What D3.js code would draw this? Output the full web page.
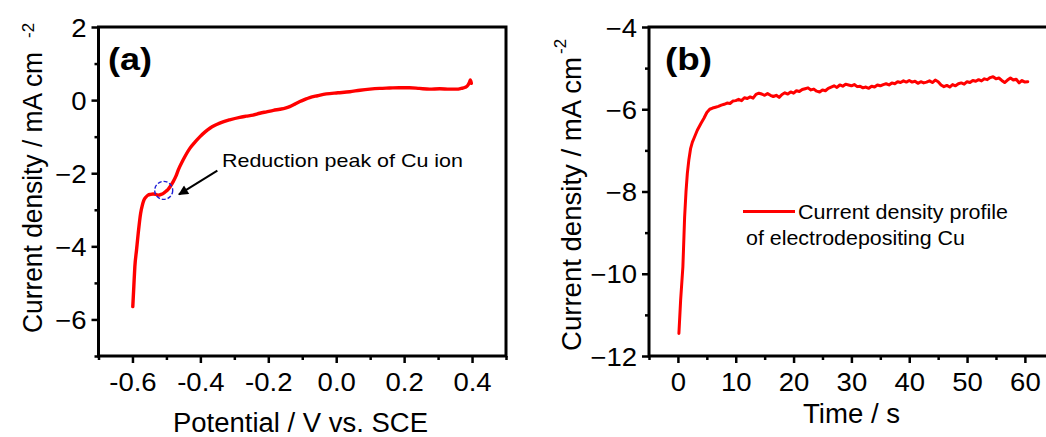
<!DOCTYPE html>
<html>
<head>
<meta charset="utf-8">
<script src="https://cdn.jsdelivr.net/npm/d3@7"></script>
<style>
  html, body { margin: 0; padding: 0; background: #fff; overflow: hidden; }
  svg { display: block; font-family: "Liberation Sans", Arial, sans-serif; }
</style>
</head>
<body>
<svg id="chart" width="1046" height="437"></svg>
<script>
// ---------- Panel (a): LSV ----------
const potentialV = [-0.599,-0.596,-0.593,-0.588,-0.583,-0.576,-0.571,-0.566,-0.560,-0.554,-0.547,-0.539,-0.531,-0.524,-0.516,-0.509,-0.502,-0.495,-0.488,-0.480,-0.472,-0.465,-0.451,-0.431,-0.416,-0.401,-0.386,-0.372,-0.357,-0.343,-0.314,-0.284,-0.265,-0.245,-0.225,-0.205,-0.185,-0.166,-0.150,-0.137,-0.122,-0.107,-0.092,-0.078,-0.055,-0.029,0.005,0.040,0.070,0.099,0.128,0.157,0.186,0.216,0.245,0.275,0.305,0.334,0.355,0.368,0.380,0.388,0.393,0.395,0.398];
const currentA   = [-5.65,-5.10,-4.56,-4.10,-3.64,-3.10,-2.88,-2.73,-2.65,-2.60,-2.58,-2.57,-2.58,-2.60,-2.58,-2.55,-2.50,-2.44,-2.35,-2.23,-2.08,-1.91,-1.64,-1.32,-1.15,-1.00,-0.87,-0.77,-0.69,-0.63,-0.54,-0.47,-0.44,-0.41,-0.36,-0.32,-0.28,-0.25,-0.22,-0.18,-0.11,-0.04,0.02,0.07,0.12,0.17,0.20,0.23,0.27,0.30,0.32,0.33,0.34,0.34,0.32,0.30,0.31,0.30,0.30,0.32,0.35,0.41,0.50,0.55,0.46];
const xTicksA = [-0.6,-0.4,-0.2,0.0,0.2,0.4];
const xTickLabelsA = ["-0.6","-0.4","-0.2","0.0","0.2","0.4"];
const xMinorA = [-0.7,-0.5,-0.3,-0.1,0.1,0.3,0.5];
const yTicksA = [-6,-4,-2,0,2];
const yMinorA = [-7,-5,-3,-1,1];

// ---------- Panel (b): chronoamperometry ----------
const timeS = [0.17,0.47,0.86,1.16,1.40,1.63,1.90,2.20,2.50,2.80,3.35,4.00,4.50,5.00,5.5,6.0,6.5,7.0,7.5,8.0,8.5,9.0,9.5,10.0,10.5,11.0,11.5,12.0,12.5,13.0,13.5,14.0,14.5,15.0,15.5,16.0,16.5,17.0,17.5,18.0,18.5,19.0,19.5,20.0,20.5,21.0,21.5,22.0,22.5,23.0,23.5,24.0,24.5,25.0,25.5,26.0,26.5,27.0,27.5,28.0,28.5,29.0,29.5,30.0,30.5,31.0,31.5,32.0,32.5,33.0,33.5,34.0,34.5,35.0,35.5,36.0,36.5,37.0,37.5,38.0,38.5,39.0,39.5,40.0,40.5,41.0,41.5,42.0,42.5,43.0,43.5,44.0,44.5,45.0,45.5,46.0,46.5,47.0,47.5,48.0,48.5,49.0,49.5,50.0,50.5,51.0,51.5,52.0,52.5,53.0,53.5,54.0,54.5,55.0,55.5,56.0,56.5,57.0,57.5,58.0,58.5,59.0,59.5,60.0,60.5];
const currentB = [-11.45,-10.64,-9.83,-8.62,-8.00,-7.56,-7.22,-6.95,-6.80,-6.70,-6.51,-6.34,-6.22,-6.08,-6.00,-5.97,-5.95,-5.93,-5.90,-5.88,-5.85,-5.86,-5.80,-5.79,-5.76,-5.79,-5.72,-5.74,-5.70,-5.73,-5.64,-5.61,-5.63,-5.66,-5.62,-5.66,-5.69,-5.66,-5.71,-5.64,-5.60,-5.63,-5.58,-5.61,-5.55,-5.57,-5.52,-5.50,-5.48,-5.53,-5.51,-5.56,-5.58,-5.53,-5.55,-5.49,-5.46,-5.43,-5.47,-5.41,-5.44,-5.39,-5.41,-5.43,-5.40,-5.45,-5.44,-5.48,-5.46,-5.49,-5.44,-5.46,-5.41,-5.43,-5.40,-5.38,-5.41,-5.36,-5.38,-5.33,-5.35,-5.31,-5.34,-5.30,-5.34,-5.32,-5.37,-5.33,-5.36,-5.34,-5.31,-5.35,-5.29,-5.33,-5.41,-5.45,-5.42,-5.46,-5.40,-5.43,-5.38,-5.36,-5.39,-5.33,-5.35,-5.30,-5.32,-5.28,-5.31,-5.26,-5.28,-5.23,-5.21,-5.26,-5.24,-5.30,-5.35,-5.29,-5.24,-5.29,-5.27,-5.36,-5.30,-5.34,-5.33];
const xTicksB = [0,10,20,30,40,50,60];
const xMinorB = [-5,5,15,25,35,45,55,65];
const yTicksB = [-12,-10,-8,-6,-4];
const yMinorB = [-11,-9,-7,-5];

const svg = d3.select("#chart");
svg.append("rect").attr("width",1046).attr("height",437).attr("fill","#fff");

const SX = 1.1; // horizontal text stretch seen in the reference
const RED = "#ff0000";

function drawPanel(opt) {
  const g = svg.append("g");
  const x = opt.x, y = opt.y;
  const [x0, x1] = x.range(), [y0, y1] = y.range();

  // curve
  const line = d3.line().x(d => x(d[0])).y(d => y(d[1])).curve(opt.curve);
  g.append("path")
    .datum(opt.xs.map((v,i) => [v, opt.ys[i]]))
    .attr("fill","none").attr("stroke",RED)
    .attr("stroke-width",opt.lw).attr("stroke-linejoin","round").attr("stroke-linecap","round")
    .attr("d", line);

  // bottom axis
  const bx = d3.axisBottom(x).tickValues(opt.xTicks).tickSize(7).tickSizeOuter(0)
    .tickFormat((d,i) => opt.xLabels ? opt.xLabels[i] : d3.format("d")(d));
  const gbx = g.append("g").attr("transform",`translate(0,${y0})`).call(bx);
  gbx.select(".domain").remove();
  gbx.selectAll(".tick line").attr("stroke","#000").attr("stroke-width",2.5);
  gbx.selectAll(".tick text").attr("y",35).attr("dy",0)
    .attr("font-size",25).attr("fill","#000").attr("transform",`scale(${SX},1)`);
  g.append("g").attr("transform",`translate(0,${y0})`)
    .call(d3.axisBottom(x).tickValues(opt.xMinor).tickSize(4).tickFormat(""))
    .call(s => { s.select(".domain").remove(); s.selectAll("line").attr("stroke","#000").attr("stroke-width",2.5); });

  // left axis
  const ly = d3.axisLeft(y).tickValues(opt.yTicks).tickSize(7).tickSizeOuter(0).tickFormat(d3.format("d"));
  const gly = g.append("g").attr("transform",`translate(${x0},0)`).call(ly);
  gly.select(".domain").remove();
  gly.selectAll(".tick line").attr("stroke","#000").attr("stroke-width",2.5);
  gly.selectAll(".tick text").attr("x",-12/SX).attr("dy","0.36em")
    .attr("font-size",25).attr("fill","#000").attr("transform",`scale(${SX},1)`);
  g.append("g").attr("transform",`translate(${x0},0)`)
    .call(d3.axisLeft(y).tickValues(opt.yMinor).tickSize(4).tickFormat(""))
    .call(s => { s.select(".domain").remove(); s.selectAll("line").attr("stroke","#000").attr("stroke-width",2.5); });

  // frame
  g.append("rect").attr("x",x0).attr("y",y1).attr("width",x1-x0).attr("height",y0-y1)
    .attr("fill","none").attr("stroke","#000").attr("stroke-width",3);

  // panel label
  g.append("text").attr("x",opt.labelX).attr("y",70).attr("font-size",32).attr("font-weight","bold")
    .attr("textLength",opt.labelW).attr("lengthAdjust","spacingAndGlyphs").text(opt.label);

  // x title
  g.append("text").attr("x",opt.xtX).attr("y",opt.xtY).attr("font-size",27)
    .attr("textLength",opt.xtW).attr("lengthAdjust","spacingAndGlyphs").text(opt.xTitle);

  // y title (rotated) + superscript
  g.append("text").attr("transform",`translate(${opt.ytX},${opt.ytY}) rotate(-90)`)
    .attr("font-size",27).attr("textLength",opt.ytW).attr("lengthAdjust","spacingAndGlyphs")
    .text("Current density / mA cm");
  g.append("text").attr("transform",`translate(${opt.supX},${opt.supY}) rotate(-90)`)
    .attr("font-size",17).text("-2");
  return g;
}

// Panel (a)
const xa = d3.scaleLinear().domain([-0.7,0.5]).range([98.5,506]);
const ya = d3.scaleLinear().domain([-7,2]).range([356,27]);
const ga = drawPanel({
  x: xa, y: ya, xs: potentialV, ys: currentA, curve: d3.curveMonotoneX, lw: 3.4,
  xTicks: xTicksA, xLabels: xTickLabelsA, xMinor: xMinorA, yTicks: yTicksA, yMinor: yMinorA,
  label: "(a)", labelX: 108, labelW: 44,
  xTitle: "Potential / V vs. SCE", xtX: 173, xtY: 432, xtW: 255,
  ytX: 42, ytY: 333, ytW: 281, supX: 34, supY: 38
});

// annotation for (a)
ga.append("circle").attr("cx",xa(-0.508)).attr("cy",ya(-2.47)).attr("r",9)
  .attr("fill","none").attr("stroke","#1f1fd6").attr("stroke-width",1.4).attr("stroke-dasharray","4,2");
svg.append("defs").append("marker").attr("id","arrowHead")
  .attr("viewBox","0 0 10 10").attr("refX",9).attr("refY",5)
  .attr("markerWidth",7).attr("markerHeight",5).attr("markerUnits","strokeWidth")
  .attr("orient","auto")
  .append("path").attr("d","M0,0 L10,5 L0,10 Z").attr("fill","#000");
ga.append("line")
  .attr("x1",xa(-0.350)).attr("y1",ya(-1.93))
  .attr("x2",xa(-0.463)).attr("y2",ya(-2.58))
  .attr("stroke","#000").attr("stroke-width",2).attr("marker-end","url(#arrowHead)");
ga.append("text").attr("x",222).attr("y",167).attr("font-size",19)
  .attr("textLength",241).attr("lengthAdjust","spacingAndGlyphs").text("Reduction peak of Cu ion");

// Panel (b)
const xb = d3.scaleLinear().domain([-5,65]).range([649,1053.8]);
const yb = d3.scaleLinear().domain([-12,-4]).range([356,27]);
const gb = drawPanel({
  x: xb, y: yb, xs: timeS, ys: currentB, curve: d3.curveLinear, lw: 3,
  xTicks: xTicksB, xLabels: null, xMinor: xMinorB, yTicks: yTicksB, yMinor: yMinorB,
  label: "(b)", labelX: 665, labelW: 47,
  xTitle: "Time / s", xtX: 803, xtY: 423, xtW: 97,
  ytX: 581, ytY: 351, ytW: 294, supX: 566, supY: 54
});

// legend for (b)
gb.append("line").attr("x1",743).attr("x2",795).attr("y1",211.5).attr("y2",211.5)
  .attr("stroke",RED).attr("stroke-width",3);
gb.append("text").attr("x",798).attr("y",219).attr("font-size",20)
  .attr("textLength",210).attr("lengthAdjust","spacingAndGlyphs").text("Current density profile");
gb.append("text").attr("x",746).attr("y",245).attr("font-size",20)
  .attr("textLength",219).attr("lengthAdjust","spacingAndGlyphs").text("of electrodepositing Cu");
</script>
</body>
</html>
